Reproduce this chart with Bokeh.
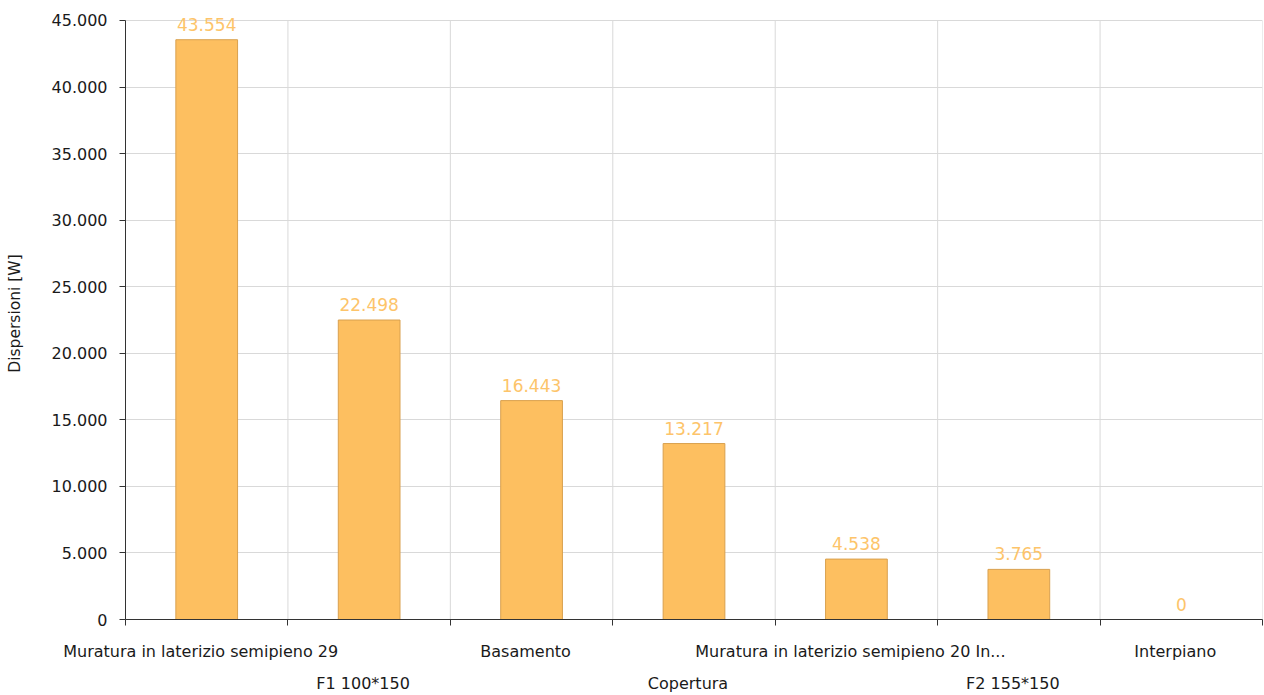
from bokeh.plotting import figure
from bokeh.models import Range1d, FixedTicker, LinearAxis, ColumnDataSource, LabelSet
from bokeh.core.properties import value
from bokeh.embed import file_html
from bokeh.resources import INLINE

categories = ["Muratura in laterizio semipieno 29", "F1 100*150", "Basamento",
              "Copertura", "Muratura in laterizio semipieno 20 In...", "F2 155*150",
              "Interpiano"]
values = [43554, 22498, 16443, 13217, 4538, 3765, 0]
value_labels = ["43.554", "22.498", "16.443", "13.217", "4.538", "3.765", "0"]
y_ticks = [0, 5000, 10000, 15000, 20000, 25000, 30000, 35000, 40000, 45000]
y_tick_labels = ["0", "5.000", "10.000", "15.000", "20.000", "25.000",
                 "30.000", "35.000", "40.000", "45.000"]

n = len(categories)
centers = [i + 0.5 for i in range(n)]
bounds = list(range(n + 1))
y_max = y_ticks[-1]
src = ColumnDataSource(dict(x=centers, top=values, lab=value_labels))

FONT = "DejaVu Sans"
TXT = "#1a1a1a"
GRID = "#d9d9d9"
LABEL_SHIFT = -0.037  # category labels sit slightly left of bar centres
HEADROOM = 613 / 600   # a little room above the top tick for the value label

p = figure(width=1264, height=695, output_backend="svg", toolbar_location=None,
           x_range=Range1d(0, n), y_range=Range1d(0, y_max * HEADROOM),
           min_border_left=125, min_border_top=7, min_border_right=2,
           min_border_bottom=75)
p.outline_line_color = None
p.background_fill_color = "white"

# vertical grid lines at category boundaries, ending at the top tick
p.segment(x0=bounds, x1=bounds, y0=[0] * len(bounds), y1=[y_max] * len(bounds),
          line_color=GRID, line_width=1, level="underlay")

p.vbar(x="x", top="top", width=0.38, source=src, fill_color="#FDBF60",
       line_color="#D9A04E", line_width=1)
labels = LabelSet(x="x", y="top", text="lab", source=src, text_align="center",
                  text_baseline="bottom", y_offset=9, text_color="#FDC46A",
                  text_font_size="17px", text_font=value(FONT))
p.add_layout(labels)

# y axis
ya = p.yaxis[0]
ya.ticker = FixedTicker(ticks=y_ticks)
ya.bounds = (0, y_max)
ya.major_label_overrides = {t: l for t, l in zip(y_ticks, y_tick_labels)}
ya.axis_label = "Dispersioni [W]"
ya.axis_label_text_font = FONT
ya.axis_label_text_font_size = "15.5px"
ya.axis_label_text_font_style = "normal"
ya.axis_label_text_color = TXT
ya.axis_label_standoff = 25
ya.major_label_text_font = FONT
ya.major_label_text_font_size = "16px"
ya.major_label_text_color = TXT
ya.major_tick_out = 6
ya.major_tick_in = 0
ya.minor_tick_out = 0
ya.minor_tick_in = 0
ya.axis_line_color = "#333333"
ya.major_tick_line_color = "#333333"
ya.major_label_standoff = 12

# x axis with boundary ticks only
xa = p.xaxis[0]
xa.ticker = FixedTicker(ticks=bounds)
xa.major_label_overrides = {i: "" for i in bounds}
xa.major_label_text_font_size = "1px"
xa.major_label_standoff = 0
xa.major_tick_out = 6
xa.major_tick_in = 0
xa.minor_tick_out = 0
xa.axis_line_color = "#333333"
xa.major_tick_line_color = "#333333"

# staggered category labels
row1 = [i for i in range(n) if i % 2 == 0]
row2 = [i for i in range(n) if i % 2 == 1]
for rows, standoff in ((row1, 16), (row2, 10)):
    ticks = [centers[i] + LABEL_SHIFT for i in rows]
    ax = LinearAxis(ticker=FixedTicker(ticks=ticks))
    ax.major_label_overrides = {t: categories[i] for t, i in zip(ticks, rows)}
    ax.axis_line_color = None
    ax.major_tick_line_color = None
    ax.minor_tick_line_color = None
    ax.major_tick_out = 0
    ax.major_tick_in = 0
    ax.major_label_standoff = standoff
    ax.major_label_text_font = FONT
    ax.major_label_text_font_size = "16px"
    ax.major_label_text_color = TXT
    p.add_layout(ax, "below")

p.xgrid.grid_line_color = None
p.ygrid.grid_line_color = GRID
p.ygrid.ticker = FixedTicker(ticks=y_ticks)

open("out.html", "w").write(file_html(p, INLINE))
